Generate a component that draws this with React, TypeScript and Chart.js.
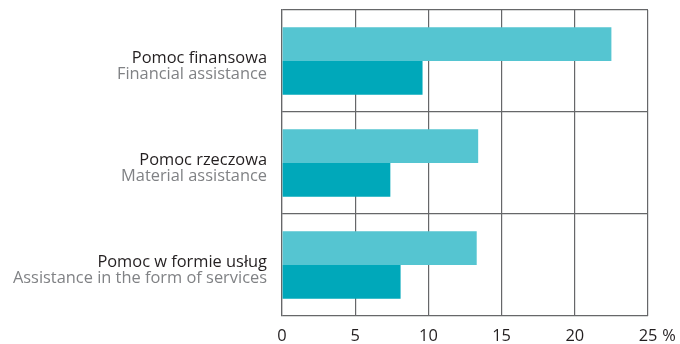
import React, { useEffect, useRef } from "react";
import { Chart, registerables } from "chart.js";

Chart.register(...registerables);

const categoriesPL = ["Pomoc finansowa", "Pomoc rzeczowa", "Pomoc w formie usług"];
const categoriesEN = ["Financial assistance", "Material assistance", "Assistance in the form of services"];
const series1 = [22.5, 13.4, 13.3];
const series2 = [9.6, 7.4, 8.1];
const xTicks = [0, 5, 10, 15, 20, 25];
const unitLabel = "%";

const FONT = "'Open Sans', sans-serif";
const FS = 16.4;

const labelPlugin = {
  id: "twoLineLabels",
  afterDraw(chart: any) {
    const { ctx, chartArea } = chart;
    const y = chart.scales.y;
    const x = chart.scales.x;
    ctx.save();
    ctx.textAlign = "right";
    ctx.textBaseline = "alphabetic";
    categoriesPL.forEach((c, i) => {
      const py = y.getPixelForValue(i);
      ctx.font = `${FS}px ${FONT}`;
      ctx.fillStyle = "#231f20";
      ctx.fillText(c, chartArea.left - 15, py + 1.5);
      ctx.fillStyle = "#808285";
      ctx.fillText(categoriesEN[i], chartArea.left - 15, py + 18);
    });
    const last = xTicks[xTicks.length - 1];
    ctx.font = `${FS}px ${FONT}`;
    const w = ctx.measureText(String(last)).width;
    ctx.textAlign = "left";
    ctx.textBaseline = "middle";
    ctx.fillStyle = "#231f20";
    ctx.fillText(unitLabel, x.getPixelForValue(last) + w / 2 + 5, 336);
    ctx.restore();
  },
};

export default function App() {
  const ref = useRef<HTMLCanvasElement | null>(null);
  useEffect(() => {
    document.body.style.margin = "0";
    const chart = new Chart(ref.current as HTMLCanvasElement, {
      type: "bar",
      data: {
        labels: categoriesPL,
        datasets: [
          { data: series1, backgroundColor: "#55c5d1", borderWidth: 0 },
          { data: series2, backgroundColor: "#00a8ba", borderWidth: 0 },
        ],
      },
      options: {
        indexAxis: "y",
        animation: false,
        responsive: false,
        maintainAspectRatio: false,
        layout: { padding: { top: 10, right: 32, left: 0, bottom: 0 } },
        datasets: { bar: { categoryPercentage: 0.66, barPercentage: 1 } },
        plugins: { legend: { display: false }, tooltip: { enabled: false } },
        scales: {
          x: {
            min: 0,
            max: 25,
            afterBuildTicks: (s: any) => {
              s.ticks = xTicks.map((v) => ({ value: v }));
            },
            afterFit: (s: any) => {
              s.height = 28;
            },
            grid: { color: "#666769", lineWidth: 1.2, drawTicks: false },
            border: { display: false },
            ticks: {
              padding: 10,
              color: "#231f20",
              font: { family: FONT, size: FS },
              maxRotation: 0,
              autoSkip: false,
            },
          },
          y: {
            afterFit: (s: any) => {
              s.width = 282;
            },
            grid: { color: "#666769", lineWidth: 1.2, drawTicks: false, offset: true },
            border: { display: true, color: "#666769", width: 1.2 },
            ticks: { display: false },
          },
        },
      },
      plugins: [labelPlugin],
    });
    return () => chart.destroy();
  }, []);
  return (
    <div style={{ position: "absolute", left: 0, top: 0, width: 680, height: 344 }}>
      <canvas ref={ref} width={680} height={344} />
    </div>
  );
}
